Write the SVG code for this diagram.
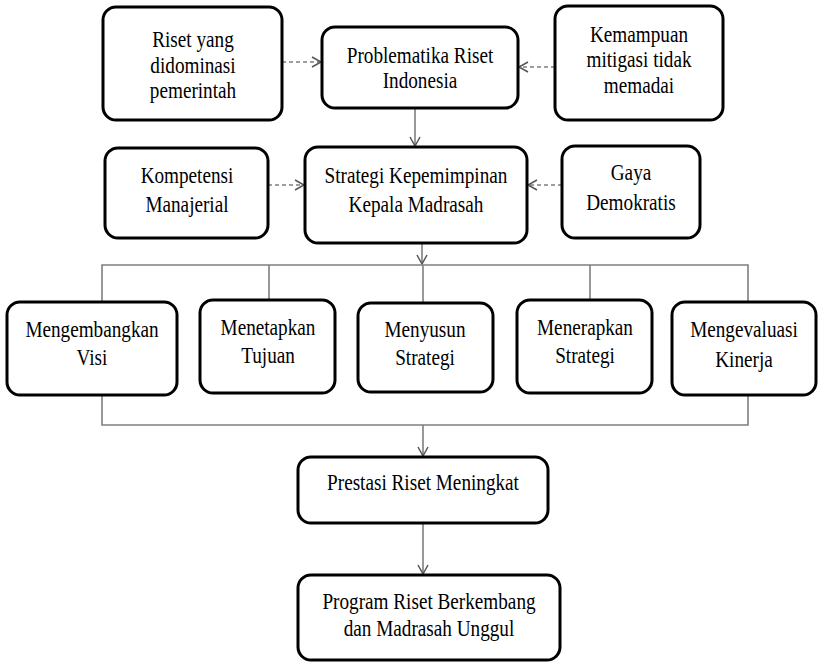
<svg xmlns="http://www.w3.org/2000/svg" width="819" height="663" viewBox="0 0 819 663">
<defs>
<style>
.box{fill:#fff;stroke:#000;stroke-width:3}
.t{font-family:"Liberation Serif","Times New Roman",serif;font-size:24px;fill:#000;text-anchor:middle}
.c{fill:none;stroke:#7f7f7f;stroke-width:1.6}
.d{fill:none;stroke:#7f7f7f;stroke-width:1.6;stroke-dasharray:4 3}
</style>
<marker id="ah" markerUnits="userSpaceOnUse" markerWidth="14" markerHeight="14" refX="10" refY="6" orient="auto">
<path d="M1,1 L10,6 L1,11" fill="none" stroke="#555" stroke-width="1.5"/>
</marker>
</defs>
<rect width="819" height="663" fill="#fff"/>
<g id="connectors">
<path class="d" d="M282,62 L321,62" marker-end="url(#ah)"/>
<path class="d" d="M555,67 L519,67" marker-end="url(#ah)"/>
<path class="c" d="M415,108 L415,146" marker-end="url(#ah)"/>
<path class="d" d="M268,185 L304,185" marker-end="url(#ah)"/>
<path class="d" d="M562,185 L528,185" marker-end="url(#ah)"/>
<path class="c" d="M422,243 L422,264" marker-end="url(#ah)"/>
<path class="c" d="M102,302 L102,265 L748,265 L748,302"/>
<path class="c" d="M269,265 L269,300"/>
<path class="c" d="M423,265 L423,303"/>
<path class="c" d="M590,265 L590,300"/>
<path class="c" d="M102,395 L102,425 L748,425 L748,395"/>
<path class="c" d="M423,425 L423,456" marker-end="url(#ah)"/>
<path class="c" d="M423,523 L423,574" marker-end="url(#ah)"/>
</g>
<g id="n-riset">
<rect class="box" x="103" y="7" width="179" height="113" rx="13"/>
<text class="t" transform="translate(193,47) scale(0.8,1)">Riset yang</text>
<text class="t" transform="translate(193,73) scale(0.8,1)">didominasi</text>
<text class="t" transform="translate(193,98) scale(0.8,1)">pemerintah</text>
</g>
<g id="n-problematika">
<rect class="box" x="322" y="27" width="196" height="81" rx="13"/>
<text class="t" transform="translate(420,63) scale(0.8,1)">Problematika Riset</text>
<text class="t" transform="translate(420,88) scale(0.8,1)">Indonesia</text>
</g>
<g id="n-kemampuan">
<rect class="box" x="555" y="6" width="168" height="114" rx="13"/>
<text class="t" transform="translate(639,42) scale(0.8,1)">Kemampuan</text>
<text class="t" transform="translate(639,67) scale(0.8,1)">mitigasi tidak</text>
<text class="t" transform="translate(639,93) scale(0.8,1)">memadai</text>
</g>
<g id="n-kompetensi">
<rect class="box" x="105" y="148" width="163" height="90" rx="13"/>
<text class="t" transform="translate(187,183) scale(0.8,1)">Kompetensi</text>
<text class="t" transform="translate(187,212) scale(0.8,1)">Manajerial</text>
</g>
<g id="n-strategi">
<rect class="box" x="305" y="147" width="222" height="96" rx="13"/>
<text class="t" transform="translate(416,183) scale(0.8,1)">Strategi Kepemimpinan</text>
<text class="t" transform="translate(416,212) scale(0.8,1)">Kepala Madrasah</text>
</g>
<g id="n-gaya">
<rect class="box" x="562" y="146" width="138" height="92" rx="13"/>
<text class="t" transform="translate(631,180) scale(0.8,1)">Gaya</text>
<text class="t" transform="translate(631,210) scale(0.8,1)">Demokratis</text>
</g>
<g id="n-visi">
<rect class="box" x="7" y="302" width="170" height="93" rx="13"/>
<text class="t" transform="translate(92,337) scale(0.8,1)">Mengembangkan</text>
<text class="t" transform="translate(92,365) scale(0.8,1)">Visi</text>
</g>
<g id="n-tujuan">
<rect class="box" x="200" y="300" width="135" height="93" rx="13"/>
<text class="t" transform="translate(268,335) scale(0.8,1)">Menetapkan</text>
<text class="t" transform="translate(268,363) scale(0.8,1)">Tujuan</text>
</g>
<g id="n-menyusun">
<rect class="box" x="358" y="303" width="135" height="89" rx="13"/>
<text class="t" transform="translate(425,337) scale(0.8,1)">Menyusun</text>
<text class="t" transform="translate(425,365) scale(0.8,1)">Strategi</text>
</g>
<g id="n-menerapkan">
<rect class="box" x="517" y="300" width="135" height="93" rx="13"/>
<text class="t" transform="translate(585,335) scale(0.8,1)">Menerapkan</text>
<text class="t" transform="translate(585,363) scale(0.8,1)">Strategi</text>
</g>
<g id="n-kinerja">
<rect class="box" x="672" y="302" width="144" height="93" rx="13"/>
<text class="t" transform="translate(744,337) scale(0.8,1)">Mengevaluasi</text>
<text class="t" transform="translate(744,367) scale(0.8,1)">Kinerja</text>
</g>
<g id="n-prestasi">
<rect class="box" x="298" y="457" width="250" height="66" rx="13"/>
<text class="t" transform="translate(423,490) scale(0.8,1)">Prestasi Riset Meningkat</text>
</g>
<g id="n-program">
<rect class="box" x="298" y="575" width="262" height="85" rx="13"/>
<text class="t" transform="translate(429,609) scale(0.8,1)">Program Riset Berkembang</text>
<text class="t" transform="translate(429,636) scale(0.8,1)">dan Madrasah Unggul</text>
</g>
</svg>
